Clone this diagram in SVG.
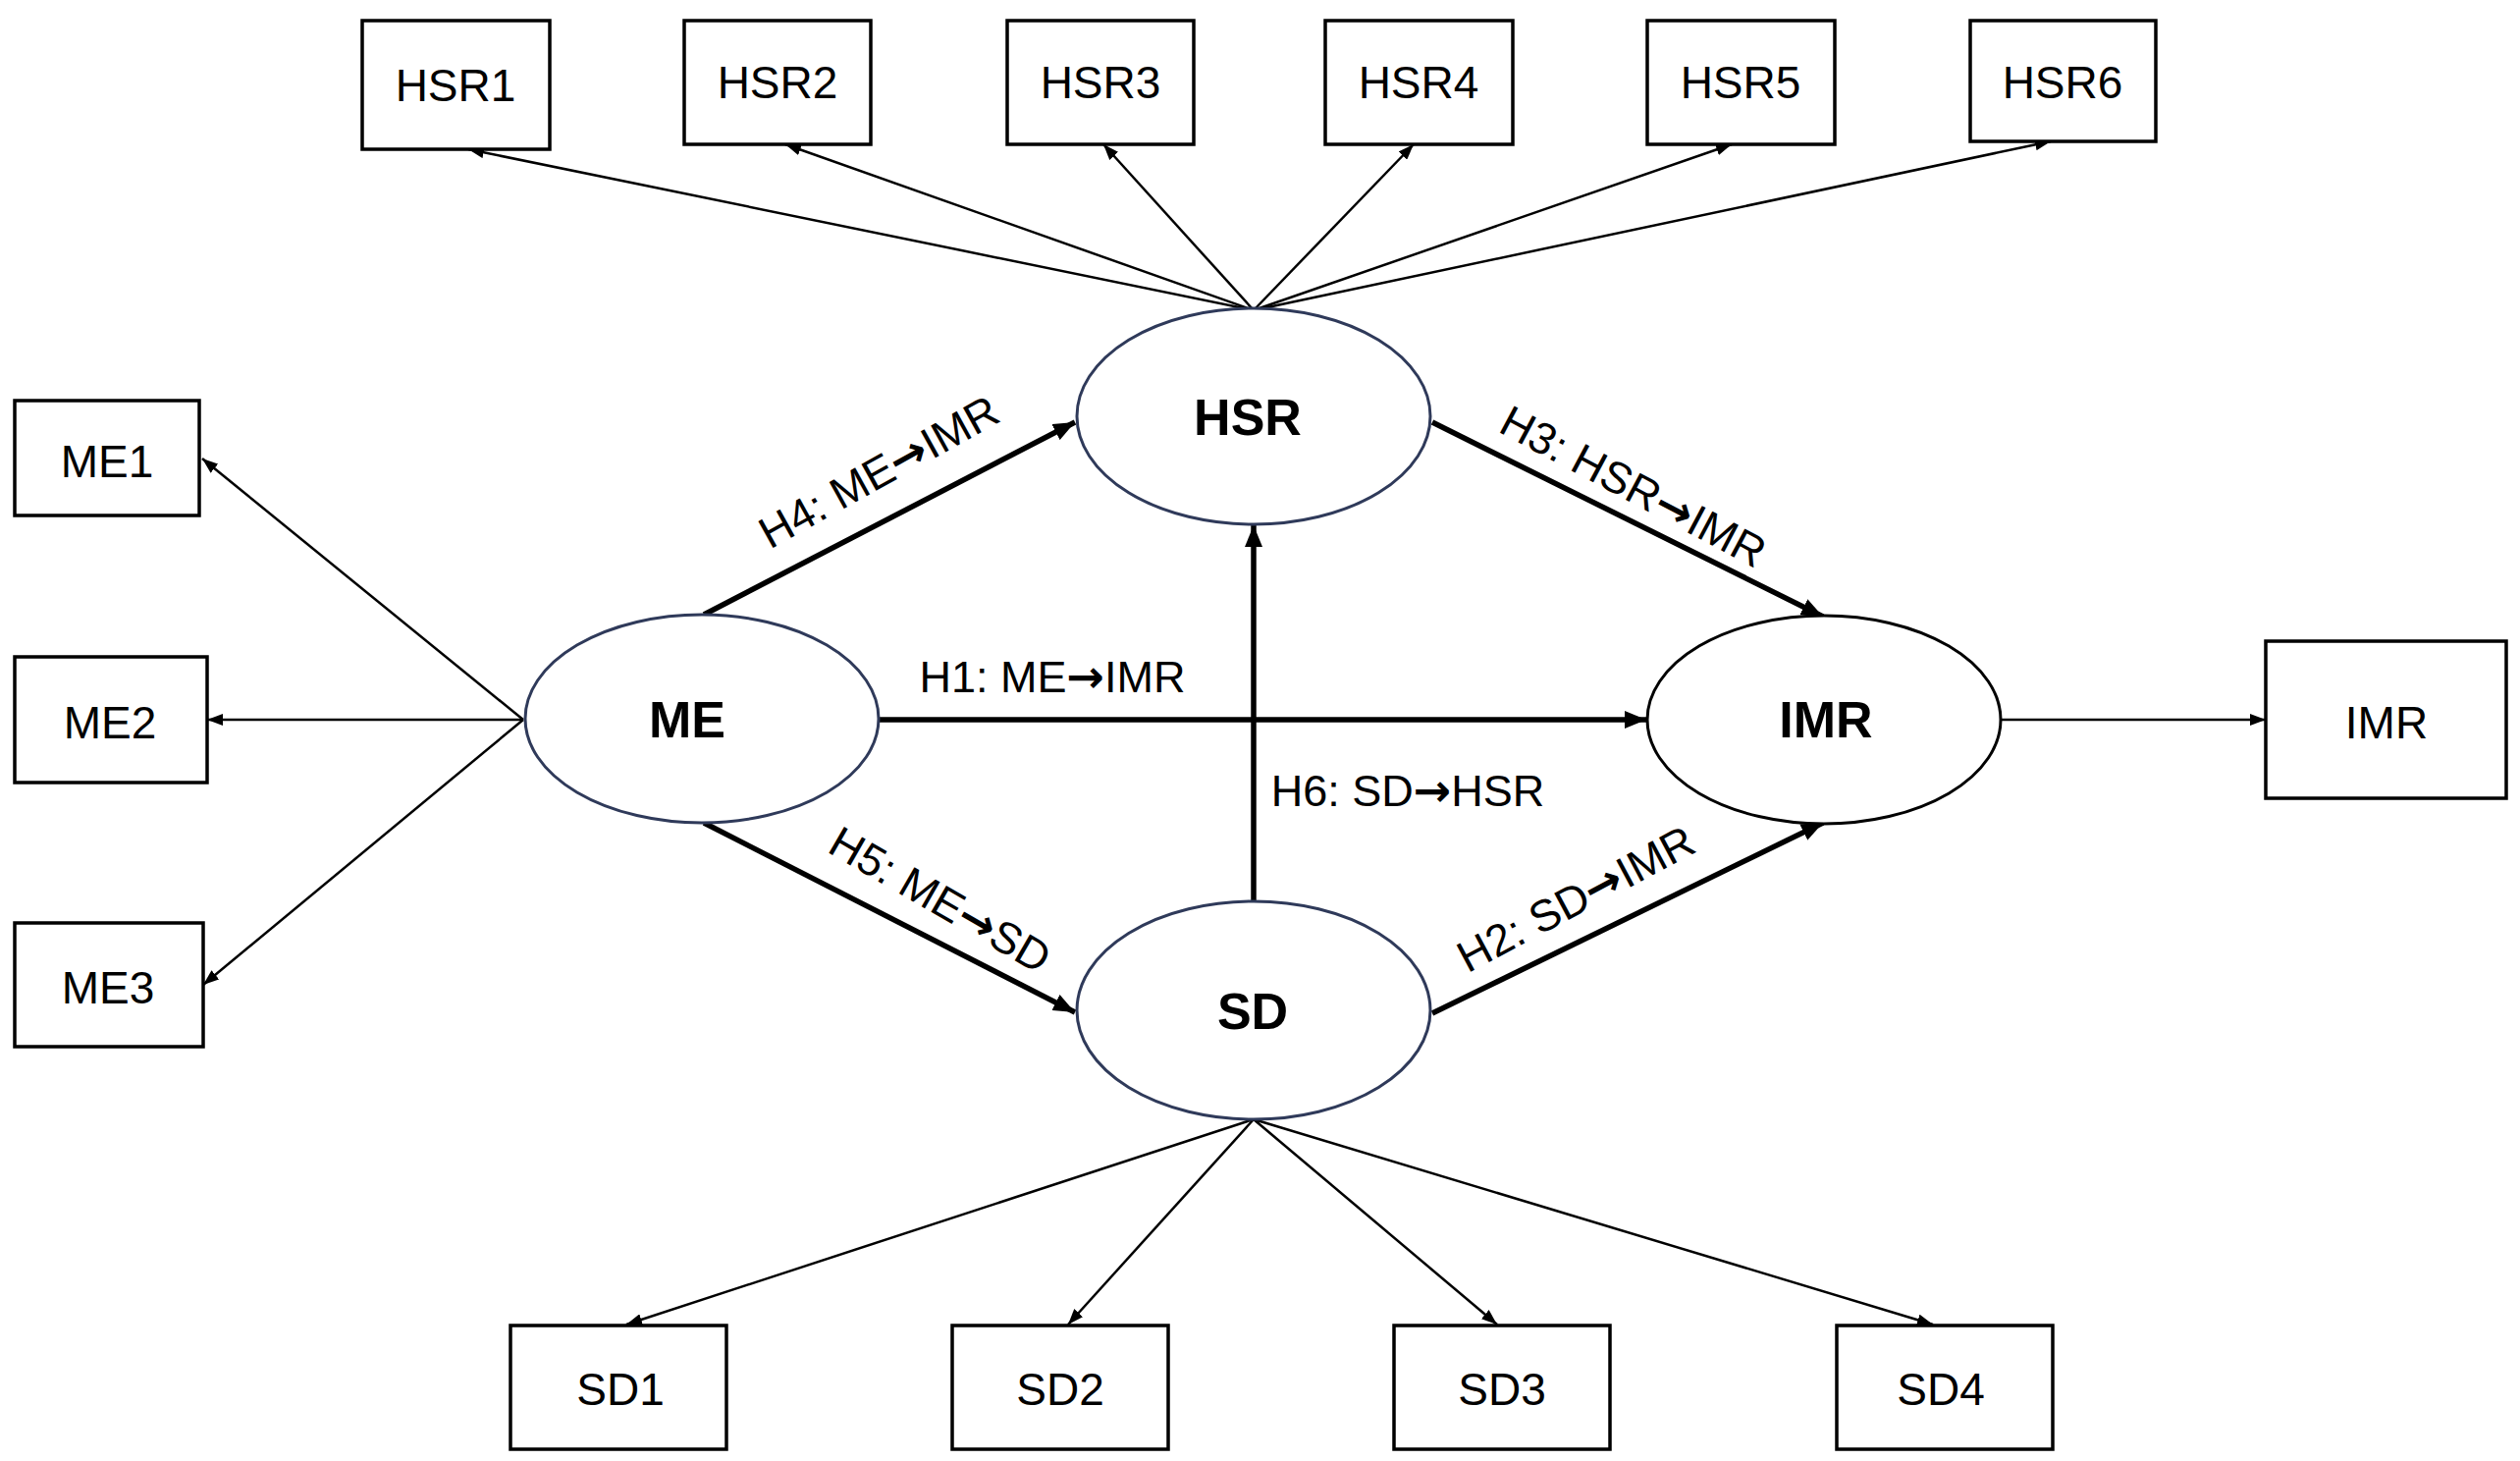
<svg xmlns="http://www.w3.org/2000/svg" width="2567" height="1488" viewBox="0 0 2567 1488">
<style>
.box{fill:#fff;stroke:#000;stroke-width:3.5}
.ell{fill:#fff;stroke:#2f3a5a;stroke-width:3}
.ell2{fill:#fff;stroke:#000;stroke-width:3}
.t{font-family:"Liberation Sans",Arial,sans-serif;font-size:46px;fill:#000;text-anchor:middle}
.tb{font-family:"Liberation Sans",Arial,sans-serif;font-size:52px;font-weight:bold;fill:#000;text-anchor:middle}
.lab{font-family:"Liberation Sans",Arial,sans-serif;font-size:45px;fill:#000;text-anchor:middle}
.ar{font-family:"DejaVu Sans",sans-serif;font-size:46px;font-weight:bold}
.thin{stroke:#000;stroke-width:2.5;fill:none;marker-end:url(#a1)}
.thick{stroke:#000;stroke-width:5.5;fill:none;marker-end:url(#a2)}
</style>
<defs>
<marker id="a1" markerUnits="userSpaceOnUse" markerWidth="16" markerHeight="12" refX="16" refY="6" orient="auto"><path d="M0,0 L16,6 L0,12 z" fill="#000"/></marker>
<marker id="a2" markerUnits="userSpaceOnUse" markerWidth="22" markerHeight="18" refX="22" refY="9" orient="auto"><path d="M0,0 L22,9 L0,18 z" fill="#000"/></marker>
</defs>
<rect width="2567" height="1488" fill="#fff"/>
<g id="connectors">
<line class="thin" x1="1277" y1="316" x2="477" y2="152"/>
<line class="thin" x1="1277" y1="316" x2="800" y2="147"/>
<line class="thin" x1="1277" y1="316" x2="1124" y2="147"/>
<line class="thin" x1="1277" y1="316" x2="1440" y2="147"/>
<line class="thin" x1="1277" y1="316" x2="1764" y2="147"/>
<line class="thin" x1="1277" y1="316" x2="2089" y2="144"/>
<line class="thin" x1="533" y1="733" x2="206" y2="467"/>
<line class="thin" x1="533" y1="733" x2="211" y2="733"/>
<line class="thin" x1="533" y1="733" x2="207" y2="1003"/>
<line class="thin" x1="2038" y1="733" x2="2308" y2="733"/>
<line class="thin" x1="1277" y1="1140" x2="638" y2="1349"/>
<line class="thin" x1="1277" y1="1140" x2="1088" y2="1349"/>
<line class="thin" x1="1277" y1="1140" x2="1525" y2="1349"/>
<line class="thin" x1="1277" y1="1140" x2="1969" y2="1349"/>
<line class="thick" x1="717" y1="626" x2="1095" y2="430"/>
<line class="thick" x1="895" y1="733" x2="1677" y2="733"/>
<line class="thick" x1="717" y1="838" x2="1095" y2="1031"/>
<line class="thick" x1="1277" y1="917" x2="1277" y2="535"/>
<line class="thick" x1="1459" y1="430" x2="1857" y2="628"/>
<line class="thick" x1="1459" y1="1032" x2="1857" y2="838"/>
<text class="lab" transform="translate(895,480) rotate(-29)" y="16">H4: ME<tspan class="ar">→</tspan>IMR</text>
<text class="lab" x="1072" y="705">H1: ME<tspan class="ar">→</tspan>IMR</text>
<text class="lab" x="1434" y="821">H6: SD<tspan class="ar">→</tspan>HSR</text>
<text class="lab" transform="translate(958,916) rotate(30)" y="16">H5: ME<tspan class="ar">→</tspan>SD</text>
<text class="lab" transform="translate(1664,495) rotate(28)" y="16">H3: HSR<tspan class="ar">→</tspan>IMR</text>
<text class="lab" transform="translate(1605,915) rotate(-28)" y="16">H2: SD<tspan class="ar">→</tspan>IMR</text>
</g>
<g id="HSR1"><rect class="box" x="369" y="21" width="191" height="131"/><text class="t" x="464" y="103">HSR1</text></g>
<g id="HSR2"><rect class="box" x="697" y="21" width="190" height="126"/><text class="t" x="792" y="100">HSR2</text></g>
<g id="HSR3"><rect class="box" x="1026" y="21" width="190" height="126"/><text class="t" x="1121" y="100">HSR3</text></g>
<g id="HSR4"><rect class="box" x="1350" y="21" width="191" height="126"/><text class="t" x="1445" y="100">HSR4</text></g>
<g id="HSR5"><rect class="box" x="1678" y="21" width="191" height="126"/><text class="t" x="1773" y="100">HSR5</text></g>
<g id="HSR6"><rect class="box" x="2007" y="21" width="189" height="123"/><text class="t" x="2101" y="100">HSR6</text></g>
<g id="ME1"><rect class="box" x="15" y="408" width="188" height="117"/><text class="t" x="109" y="486">ME1</text></g>
<g id="ME2"><rect class="box" x="15" y="669" width="196" height="128"/><text class="t" x="112" y="752">ME2</text></g>
<g id="ME3"><rect class="box" x="15" y="940" width="192" height="126"/><text class="t" x="110" y="1022">ME3</text></g>
<g id="IMR-box"><rect class="box" x="2308" y="653" width="245" height="160"/><text class="t" x="2431" y="752">IMR</text></g>
<g id="SD1"><rect class="box" x="520" y="1350" width="220" height="126"/><text class="t" x="632" y="1431">SD1</text></g>
<g id="SD2"><rect class="box" x="970" y="1350" width="220" height="126"/><text class="t" x="1080" y="1431">SD2</text></g>
<g id="SD3"><rect class="box" x="1420" y="1350" width="220" height="126"/><text class="t" x="1530" y="1431">SD3</text></g>
<g id="SD4"><rect class="box" x="1871" y="1350" width="220" height="126"/><text class="t" x="1977" y="1431">SD4</text></g>
<g id="HSR"><ellipse class="ell" cx="1277" cy="424" rx="180" ry="110"/><text class="tb" x="1271" y="443">HSR</text></g>
<g id="ME"><ellipse class="ell" cx="715" cy="732" rx="180" ry="106"/><text class="tb" x="700" y="751">ME</text></g>
<g id="IMR"><ellipse class="ell2" cx="1858" cy="733" rx="180" ry="106"/><text class="tb" x="1860" y="751">IMR</text></g>
<g id="SD"><ellipse class="ell" cx="1277" cy="1029" rx="180" ry="111"/><text class="tb" x="1276" y="1048">SD</text></g>
</svg>
